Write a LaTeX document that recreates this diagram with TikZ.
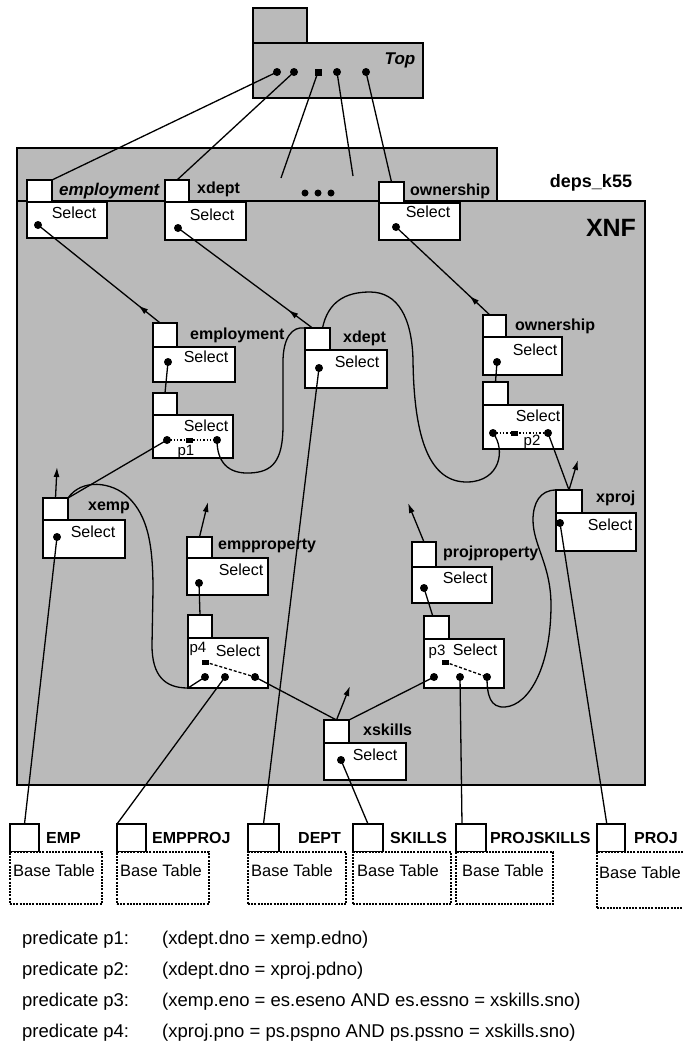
\documentclass[tikz,border=0pt]{standalone}
\usepackage{fontspec}
\setmainfont{Liberation Sans}
\usetikzlibrary{arrows.meta,decorations.markings,calc}

\tikzset{
  region/.style={draw=black, line width=1.7pt, fill=black!27},
  tabbox/.style={draw=black, line width=1.6pt, fill=white, inner sep=0pt, outer sep=0pt, anchor=north west},
  greybox/.style={tabbox, fill=black!27},
  basebody/.style={tabbox, line width=1.1pt, dash pattern=on 2pt off 1.2pt},
  dot/.style={circle, fill=black, inner sep=0pt, minimum size=8pt},
  sqdot/.style={rectangle, fill=black, inner sep=0pt, minimum width=7pt, minimum height=5pt},
  wire/.style={line width=1.3pt, draw=black},
  upflow/.style={wire, postaction={decorate}, decoration={markings, mark=at position #1 with {\arrow{Latex[length=10pt,width=6pt]}}}},
  outarrow/.style={wire, -{Latex[length=10pt,width=6pt]}},
  lbl/.style={anchor=west, inner sep=0pt, font=\fontsize{16}{18}\selectfont\bfseries},
  lbli/.style={anchor=west, inner sep=0pt, font=\fontsize{17}{19}\selectfont\bfseries\itshape},
  sel/.style={inner sep=0pt, font=\fontsize{16}{18}\selectfont},
  plbl/.style={inner sep=0pt, font=\fontsize{15}{17}\selectfont},
  btext/.style={anchor=west, inner sep=0pt, font=\fontsize{16.5}{18}\selectfont},
  pred/.style={anchor=west, inner sep=0pt, font=\fontsize{18.5}{20}\selectfont},
}

% box helper: [style]{name}{x}{y}{width}{height}, top-left corner at (x,y)
\newcommand{\bx}[6][tabbox]{\node[#1, minimum width=#5pt, minimum height=#6pt] (#2) at (#3,#4) {};}

\begin{document}
\begin{tikzpicture}[x=1pt,y=-1pt]
\useasboundingbox (0,0) rectangle (683,1045);

% ---------- Top operator ----------
\bx[greybox]{topt}{253}{8}{54}{35}
\bx[greybox]{top}{253}{43}{170}{55}
\node[inner sep=0pt, font=\fontsize{17}{19}\selectfont\bfseries\itshape] (toplbl) at (400,60) {Top};
\node[dot] (T1) at (277,72) {};
\node[dot] (T2) at (294,72) {};
\node[sqdot, minimum width=7pt, minimum height=7pt] (T3) at (318,72) {};
\node[dot] (T4) at (337,72) {};
\node[dot] (T5) at (366,72) {};

% ---------- deps_k55 / XNF regions ----------
\draw[region] (17,148) rectangle (497,201);
\draw[region] (17,201) rectangle (645,785);
\node[inner sep=0pt, font=\fontsize{18}{20}\selectfont\bfseries] (deps) at (591,183) {deps\_k55};
\node[inner sep=0pt, font=\fontsize{25}{27}\selectfont\bfseries] (xnf) at (611,228) {XNF};

% ---------- top row of the XNF region ----------
\bx{emp0t}{27}{180}{25}{22}
\bx{emp0}{27}{202}{80}{36}
\node[lbli] (emp0l) at (59,191) {employment};
\node[sel] (emp0s) at (74,213) {Select};
\node[dot] (emp0d) at (38,225) {};

\bx{xdp0t}{165}{180}{24}{22}
\bx{xdp0}{165}{202}{81}{38}
\node[lbl] (xdp0l) at (197,189) {xdept};
\node[sel] (xdp0s) at (212,215) {Select};
\node[dot] (xdp0d) at (178,228) {};

\node[dot, minimum size=7pt] (e1) at (305,193) {};
\node[dot, minimum size=7pt] (e2) at (318,193) {};
\node[dot, minimum size=7pt] (e3) at (331,193) {};

\bx{own0t}{379}{182}{25}{21}
\bx{own0}{379}{203}{81}{37}
\node[lbl] (own0l) at (410,191) {ownership};
\node[sel] (own0s) at (428,212) {Select};
\node[dot] (own0d) at (396,227) {};

% ---------- employment / p1 ----------
\bx{emp1t}{153}{323}{24}{24}
\bx{emp1}{153}{347}{82}{35}
\node[lbl] (emp1l) at (190,335) {employment};
\node[sel] (emp1s) at (206,357) {Select};
\node[dot] (emp1d) at (168,362) {};

\bx{p1t}{153}{393}{24}{22}
\bx{p1}{153}{415}{80}{43}
\node[sel] (p1s) at (206,426) {Select};
\node[plbl] (p1l) at (186,452) {p1};

% ---------- xdept ----------
\bx{xdp1t}{305}{328}{25}{22}
\bx{xdp1}{305}{350}{82}{38}
\node[lbl] (xdp1l) at (343,338) {xdept};
\node[sel] (xdp1s) at (357,362) {Select};
\node[dot] (xdp1d) at (319,368) {};

% ---------- ownership / p2 ----------
\bx{own1t}{483}{315}{23}{22}
\bx{own1}{483}{337}{79}{38}
\node[lbl] (own1l) at (515,326) {ownership};
\node[sel] (own1s) at (535,350) {Select};
\node[dot] (own1d) at (497,362) {};

\bx{p2t}{483}{382}{25}{23}
\bx{p2}{483}{405}{80}{44}
\node[sel] (p2s) at (538,416) {Select};
\node[plbl] (p2l) at (532,442) {p2};

% ---------- xemp ----------
\bx{xempt}{43}{498}{25}{22}
\bx{xemp}{43}{520}{82}{38}
\node[lbl] (xempl) at (88,508) {xemp};
\node[sel] (xemps) at (93,532) {Select};
\node[dot] (xempd) at (57,537) {};

% ---------- xproj ----------
\bx{xprojt}{556}{490}{26}{23}
\bx{xproj}{556}{513}{80}{38}
\node[lbl] (xprojl) at (596,498) {xproj};
\node[sel] (xprojs) at (610,525) {Select};
\node[dot] (xprojd) at (560,523) {};

% ---------- empproperty / p4 ----------
\bx{ept}{187}{537}{25}{21}
\bx{ep}{187}{558}{81}{37}
\node[lbl] (epl) at (218,546) {empproperty};
\node[sel] (eps) at (241,570) {Select};
\node[dot] (epd) at (199,583) {};

\bx{p4t}{188}{615}{24}{23}
\bx{p4}{188}{638}{80}{50}
\node[plbl] (p4l) at (198,649) {p4};
\node[sel] (p4s) at (238,651) {Select};

% ---------- projproperty / p3 ----------
\bx{ppt}{412}{542}{24}{25}
\bx{pp}{412}{567}{80}{36}
\node[lbl] (ppl) at (443,553) {projproperty};
\node[sel] (pps) at (465,578) {Select};
\node[dot] (ppd) at (424,588) {};

\bx{p3t}{424}{616}{25}{23}
\bx{p3}{424}{639}{80}{49}
\node[plbl] (p3l) at (437,652) {p3};
\node[sel] (p3s) at (475,650) {Select};

% ---------- xskills ----------
\bx{xskt}{324}{720}{25}{23}
\bx{xsk}{324}{743}{82}{37}
\node[lbl] (xskl) at (363,730) {xskills};
\node[sel] (xsks) at (375,755) {Select};
\node[dot] (xskd) at (341,760) {};

% ---------- base tables ----------
\bx{bEMPt}{10}{824}{29}{28}
\bx[basebody]{bEMP}{10}{852}{92}{52}
\node[lbl] (bEMPl) at (46,838) {EMP};
\node[btext] (bEMPs) at (13,871) {Base Table};

\bx{bEPt}{117}{824}{29}{28}
\bx[basebody]{bEP}{117}{852}{92}{52}
\node[lbl] (bEPl) at (152,838) {EMPPROJ};
\node[btext] (bEPs) at (120,871) {Base Table};

\bx{bDEPTt}{248}{824}{31}{28}
\bx[basebody]{bDEPT}{248}{852}{98}{52}
\node[lbl] (bDEPTl) at (298,838) {DEPT};
\node[btext] (bDEPTs) at (251,871) {Base Table};

\bx{bSKt}{353}{824}{30}{28}
\bx[basebody]{bSK}{353}{852}{98}{52}
\node[lbl] (bSKl) at (390,838) {SKILLS};
\node[btext] (bSKs) at (357,871) {Base Table};

\bx{bPSt}{456}{824}{30}{28}
\bx[basebody]{bPS}{456}{852}{97}{52}
\node[lbl] (bPSl) at (490,838) {PROJSKILLS};
\node[btext] (bPSs) at (462,871) {Base Table};

\bx{bPRt}{597}{824}{28}{28}
\bx[basebody]{bPR}{597}{852}{92}{56}
\node[lbl] (bPRl) at (634,838) {PROJ};
\node[btext] (bPRs) at (599,873) {Base Table};

% ---------- predicate dots ----------
\node[dot] (p1L) at (167,440) {};
\node[sqdot] (p1q) at (189,440) {};
\node[dot] (p1R) at (217,440) {};
\node[dot] (p2L) at (493,433) {};
\node[sqdot] (p2q) at (514,433) {};
\node[dot] (p2R) at (548,433) {};
\node[sqdot] (p4q) at (205,662) {};
\node[dot] (p4L) at (205,677) {};
\node[dot] (p4M) at (225,677) {};
\node[dot] (p4R) at (255,677) {};
\node[sqdot] (p3q) at (445,662) {};
\node[dot] (p3L) at (434,677) {};
\node[dot] (p3M) at (460,677) {};
\node[dot] (p3R) at (487,677) {};

% free ends
\coordinate (c3) at (281,178);
\coordinate (c4) at (353,176);
\coordinate (xempout) at (57,467);
\coordinate (xprojout) at (578,460);
\coordinate (epout) at (208,502);
\coordinate (ppout) at (408,503);
\coordinate (xskout) at (350,686);

% ---------- connectors ----------
\draw[wire] (T1.center) -- (emp0t.north east);
\draw[wire] (T2.center) -- (xdp0t.north);
\draw[wire] (T3.center) -- (c3);
\draw[wire] (T4.center) -- (c4);
\draw[wire] (T5.center) -- (own0t.north);

\draw[upflow=0.18] ($(emp1t.north west)!0.3!(emp1t.north east)$) -- (emp0d.center);
\draw[upflow=0.18] ($(xdp1t.north west)!0.3!(xdp1t.north east)$) -- (xdp0d.center);
\draw[upflow=0.22] ($(own1t.north west)!0.3!(own1t.north east)$) -- (own0d.center);

\draw[wire] (emp1d.center) -- (p1t.north);
\draw[wire] (own1d.center) -- (p2t.north);

\draw[wire, dotted] (p1L.center) -- (p1R.center);
\draw[wire, dotted] (p2L.center) -- (p2R.center);
\draw[wire, dash pattern=on 3pt off 2pt] (p4q.center) -- (p4R.center);
\draw[wire, dash pattern=on 3pt off 2pt] (p3q.center) -- (p3R.center);

\draw[wire] (p1L.center) -- (xempt.north east);
\draw[outarrow] (xempt.north) -- (xempout);
\draw[wire] (p2R.center) -- (xprojt.north);
\draw[outarrow] (xprojt.north) -- (xprojout);
\draw[wire] (epd.center) -- (p4t.north);
\draw[outarrow] (ept.north) -- (epout);
\draw[wire] (ppd.center) -- ($(p3t.north west)!0.35!(p3t.north east)$);
\draw[outarrow] (ppt.north) -- (ppout);
\draw[wire] (p4R.center) -- (xskt.north);
\draw[wire] (p3L.center) -- (xskt.north east);
\draw[outarrow] (xskt.north) -- (xskout);

% xdept output into p1
\draw[wire] (xdp1t.north west) .. controls (292,326) and (283,338) .. (283,362)
  -- (283,425) .. controls (283,462) and (272,472) .. (250,473)
  .. controls (228,474) and (217,462) .. (p1R.center);
% xdept output into p2
\draw[wire] ($(xdp1t.north west)!0.7!(xdp1t.north east)$) .. controls (328,302) and (345,292) .. (370,292)
  .. controls (398,292) and (412,318) .. (413,360)
  .. controls (414,440) and (430,483) .. (468,482)
  .. controls (500,481) and (506,450) .. (p2L.center);
% xemp output into p4
\draw[wire] (xempt.north east) .. controls (82,478) and (112,482) .. (128,497)
  .. controls (148,516) and (153,545) .. (153,590)
  -- (152,645) .. controls (152,676) and (165,688) .. (188,688) -- (p4L.center);
% xproj output into p3
\draw[wire] (xprojt.north west) .. controls (540,490) and (533,503) .. (533,520)
  .. controls (533,545) and (551,565) .. (551,605)
  .. controls (551,665) and (530,705) .. (505,707)
  .. controls (490,708) and (487,695) .. (p3R.center);

% inputs from base tables
\draw[wire] (xempd.center) -- (bEMPt.north);
\draw[wire] (p4M.center) -- (bEPt.north west);
\draw[wire] (xdp1d.center) -- (bDEPTt.north);
\draw[wire] (xskd.center) -- (bSKt.north);
\draw[wire] (p3M.center) -- ($(bPSt.north west)!0.2!(bPSt.north east)$);
\draw[wire] (xprojd.center) -- ($(bPRt.north west)!0.35!(bPRt.north east)$);

% ---------- predicate legend ----------
\node[pred] (pr1) at (22,940) {predicate p1:};
\node[pred] (pr1e) at (162,940) {(xdept.dno = xemp.edno)};
\node[pred] (pr2) at (22,971) {predicate p2:};
\node[pred] (pr2e) at (162,971) {(xdept.dno = xproj.pdno)};
\node[pred] (pr3) at (22,1002) {predicate p3:};
\node[pred] (pr3e) at (162,1002) {(xemp.eno = es.eseno AND es.essno = xskills.sno)};
\node[pred] (pr4) at (22,1033) {predicate p4:};
\node[pred] (pr4e) at (162,1033) {(xproj.pno = ps.pspno AND ps.pssno = xskills.sno)};
\end{tikzpicture}
\end{document}
